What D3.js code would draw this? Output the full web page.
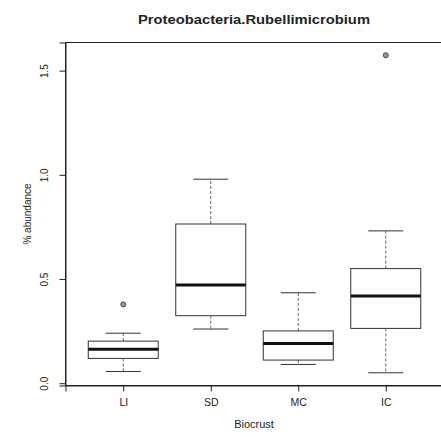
<!DOCTYPE html>
<html>
<head>
<meta charset="utf-8">
<script src="https://cdn.jsdelivr.net/npm/d3@7"></script>
<style>
  body { margin: 0; background: #fff; }
  text { font-family: "Liberation Sans", Arial, sans-serif; fill: #222; }
</style>
</head>
<body>
<div id="chart"></div>
<script>
// groups and box statistics
const groups = ["LI", "SD", "MC", "IC"];
const lowerWhisker = [0.056, 0.260, 0.090, 0.050];
const q1 = [0.119, 0.324, 0.111, 0.263];
const median = [0.163, 0.471, 0.191, 0.418];
const q3 = [0.202, 0.764, 0.251, 0.550];
const upperWhisker = [0.240, 0.979, 0.434, 0.731];
const outliers = [[0.378], [], [], [1.574]];
const yTicks = [0, 0.5, 1.0, 1.5];

const width = 441;
const height = 437;

const svg = d3.select("#chart")
	.append("svg")
		.attr("width", width)
		.attr("height", height);

// R style scales: xlim 0.5..4.5 extended by 4%
const x = d3.scaleLinear()
	.domain([0.34, 4.66])
	.range([65.5, 443.5]);
const y = d3.scaleLinear()
	.domain([-0.011, 1.635])
	.range([385.5, 42.5]);

const boxW = x(1.8) - x(1);
const capW = boxW / 2;

// plot frame
svg.append("rect")
	.attr("x", x(0.34))
	.attr("y", y(1.635))
	.attr("width", x(4.66) - x(0.34))
	.attr("height", y(-0.011) - y(1.635))
	.style("fill", "none")
	.style("stroke", "#222")
	.style("stroke-width", 1);

// axes
const yAxis = svg.append("g")
	.attr("transform", `translate(${x(0.34)},0)`)
	.style("color", "#222")
	.call(d3.axisLeft(y).tickValues(yTicks).tickSizeOuter(0).tickSize(6).tickFormat(d3.format(".1f")));
yAxis.selectAll("text")
	.attr("transform", "rotate(-90)")
	.attr("x", 0)
	.attr("y", -18)
	.attr("dy", 0)
	.style("text-anchor", "middle")
	.style("font-size", "10px");

const xAxis = svg.append("g")
	.attr("transform", `translate(0,${y(-0.011)})`)
	.style("color", "#222")
	.call(d3.axisBottom(x).tickValues([1, 2, 3, 4]).tickSizeOuter(0).tickSize(6)
		.tickFormat((d) => groups[d - 1]));
xAxis.selectAll("text")
	.attr("y", 13)
	.style("font-size", "10.5px");

// boxes
groups.forEach((g, i) => {
	const cx = x(i + 1);
	const box = svg.append("g");
	// whiskers
	box.append("line")
		.attr("x1", cx).attr("x2", cx)
		.attr("y1", y(q3[i])).attr("y2", y(upperWhisker[i]))
		.style("stroke", "#666")
		.style("stroke-dasharray", "3,2");
	box.append("line")
		.attr("x1", cx).attr("x2", cx)
		.attr("y1", y(q1[i])).attr("y2", y(lowerWhisker[i]))
		.style("stroke", "#666")
		.style("stroke-dasharray", "3,2");
	// caps
	[upperWhisker[i], lowerWhisker[i]].forEach((v) => {
		box.append("line")
			.attr("x1", cx - capW / 2).attr("x2", cx + capW / 2)
			.attr("y1", y(v)).attr("y2", y(v))
			.style("stroke", "#333");
	});
	box.append("rect")
		.attr("x", cx - boxW / 2)
		.attr("y", y(q3[i]))
		.attr("width", boxW)
		.attr("height", y(q1[i]) - y(q3[i]))
		.style("fill", "#fff")
		.style("stroke", "#333");
	box.append("line")
		.attr("x1", cx - boxW / 2).attr("x2", cx + boxW / 2)
		.attr("y1", y(median[i])).attr("y2", y(median[i]))
		.style("stroke", "#111")
		.style("stroke-width", 3);
	outliers[i].forEach((v) => {
		box.append("circle")
			.attr("cx", cx)
			.attr("cy", y(v))
			.attr("r", 2.5)
			.style("fill", "#999")
			.style("stroke", "#444");
	});
});

// titles
svg.append("text")
	.text("Proteobacteria.Rubellimicrobium")
	.attr("x", 254)
	.attr("y", 24)
	.attr("textLength", 232)
	.attr("lengthAdjust", "spacingAndGlyphs")
	.style("text-anchor", "middle")
	.style("font-weight", "bold")
	.style("font-size", "13px");

svg.append("text")
	.text("Biocrust")
	.attr("x", 254)
	.attr("y", 428)
	.style("text-anchor", "middle")
	.style("font-size", "11px");

svg.append("text")
	.text("% abundance")
	.attr("transform", `translate(31,${(y(-0.011) + y(1.635)) / 2}) rotate(-90)`)
	.style("text-anchor", "middle")
	.style("font-size", "10px");
</script>
</body>
</html>
